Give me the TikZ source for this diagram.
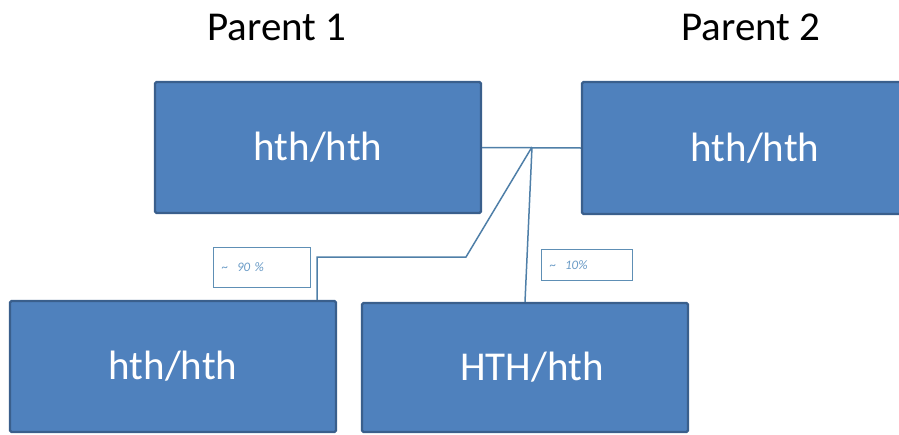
\documentclass[tikz,border=0pt]{standalone}
\usepackage{fontspec}
\setmainfont{Carlito}
\begin{document}
\begin{tikzpicture}[x=1pt,y=-1pt,
  gbox/.style={draw=boxedge,line width=2.2pt,fill=boxfill,rounded corners=1.5pt,
    text=white,font=\fontsize{41}{48}\selectfont,inner sep=0pt},
  title/.style={font=\fontsize{41}{48}\selectfont,text=black,anchor=base},
  pct/.style={draw=lblue,line width=0.9pt,font=\fontsize{13}{15}\itshape,text=ltext,
    inner sep=0pt,anchor=north west},
  conn/.style={draw=lineblue,line width=1.5pt}]
\definecolor{boxfill}{HTML}{4F81BD}
\definecolor{boxedge}{HTML}{3A5F8C}
\definecolor{lineblue}{HTML}{4F7FA8}
\definecolor{lblue}{HTML}{5E8FB5}
\definecolor{ltext}{HTML}{6A9BC6}
\useasboundingbox (0,0) rectangle (899,434);
\node[title] (t1) at (277,40) {Parent 1};
\node[title] (t2) at (751,40) {Parent 2};
\node[gbox,minimum width=326pt,minimum height=131pt] (p1) at (318,147.5) {\raisebox{-2pt}{hth/hth}};
\node[gbox,minimum width=330pt,minimum height=132pt] (p2) at (747,148) {\hspace*{16pt}\raisebox{-2pt}{hth/hth}};
\node[gbox,minimum width=326pt,minimum height=131pt] (c1) at (173,366.5) {\raisebox{-3pt}{hth/hth}};
\node[gbox,minimum width=326pt,minimum height=129pt] (c2) at (525,367.5) {\hspace*{14pt}HTH/hth};
\node[pct,minimum width=97pt,minimum height=40pt,text width=90pt,align=left] (l90) at (213,247) {\hspace*{5pt}\textasciitilde\ \ 90 \%};
\node[pct,minimum width=91pt,minimum height=31pt,text width=84pt,align=left] (l10) at (541,249) {\hspace*{5pt}\textasciitilde\ \ 10\%};
\coordinate (J) at (532,147);
\coordinate (B) at (466,257);
\coordinate (K) at (317,257);
\draw[conn] (p1.east) -- (p2.west);
\draw[conn] (J) -- (c2.north);
\draw[conn] (J) -- (B) -- (K) -- (K |- c1.north);
\end{tikzpicture}
\end{document}
